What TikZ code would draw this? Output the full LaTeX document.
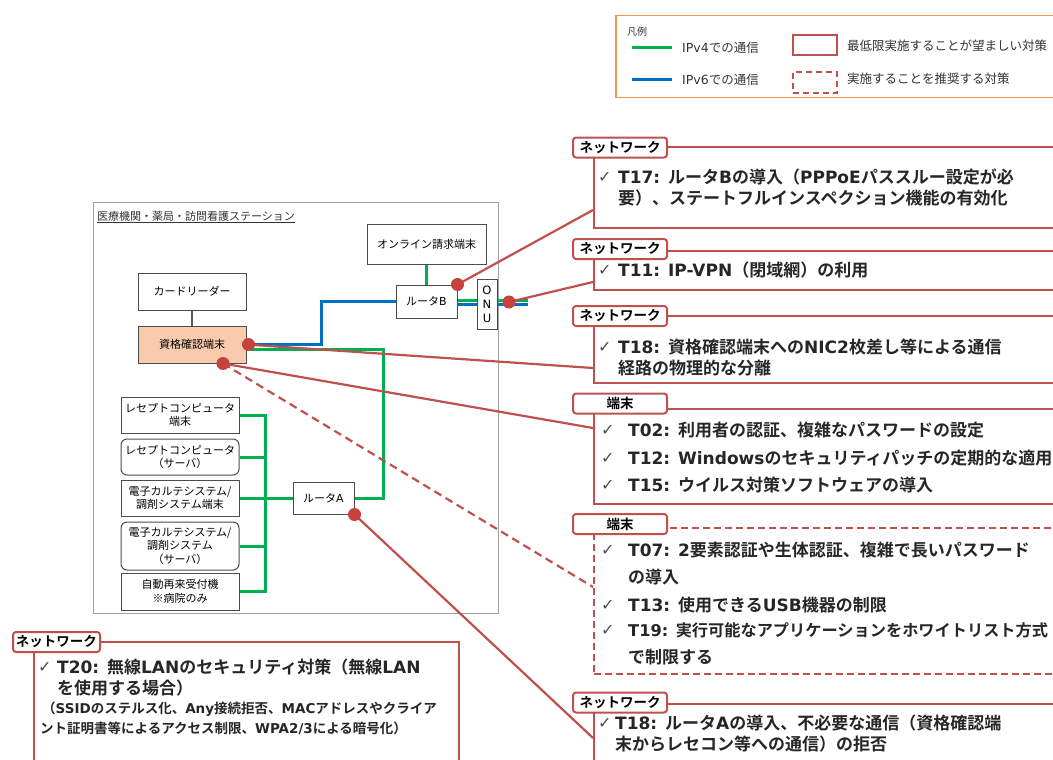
\documentclass[tikz,border=0pt]{standalone}
\usepackage{fontspec}
\setmainfont{Noto Sans CJK JP}[BoldFont={Noto Sans CJK JP Bold}]
\newfontfamily\symf{DejaVu Sans}
\newfontfamily\latf{DejaVu Sans}
\newcommand{\lt}[1]{{\latf #1}}
\definecolor{calred}{RGB}{192,80,77}
\definecolor{dotred}{RGB}{200,66,60}
\definecolor{netgreen}{RGB}{0,176,80}
\definecolor{netblue}{RGB}{0,112,192}
\definecolor{peach}{RGB}{248,203,173}
\definecolor{legor}{RGB}{240,150,80}
\definecolor{framegray}{RGB}{160,160,160}
\begin{document}
\begin{tikzpicture}[x=1pt,y=-1pt,
  dev/.style={draw=black!70,line width=1pt,fill=white,align=center,inner sep=0pt,font=\fontsize{11}{13.5}\selectfont},
  cbox/.style={draw=calred,line width=2pt,anchor=north west,inner sep=0pt},
  cboxd/.style={cbox,dash pattern=on 7pt off 4pt},
  tagbox/.style={draw=calred,line width=2pt,rounded corners=3pt,fill=white,minimum width=94pt,minimum height=20pt,inner sep=0pt,font=\bfseries\fontsize{13.5}{15}\selectfont},
  ctext/.style={anchor=west,inner sep=0pt,font=\bfseries\fontsize{17}{21}\selectfont,text=black!85},
  stext/.style={anchor=west,inner sep=0pt,font=\bfseries\fontsize{13.5}{15}\selectfont,text=black!85},
  chk/.style={anchor=west,inner sep=0pt,font=\symf\fontsize{16}{18}\selectfont,text=black!70},
  dot/.style={circle,fill=dotred,inner sep=0pt,minimum size=13pt},
  conn/.style={draw=calred,line width=2.2pt},
  ipvf/.style={draw=netgreen,line width=3pt},
  ipvs/.style={draw=netblue,line width=3pt},
  legtext/.style={anchor=west,inner sep=0pt,font=\fontsize{12.5}{14}\selectfont,text=black!80},
]
\useasboundingbox (0,0) rectangle (1053,760);
\clip (0,0) rectangle (1053,760);
\fill[white] (0,0) rectangle (1053,760);

% ---------- legend ----------
\node[draw=legor,line width=1.5pt,anchor=north west,minimum width=460pt,minimum height=82pt,inner sep=0pt] (legend) at (615,15) {};
\node[anchor=west,inner sep=0pt,font=\fontsize{10}{12}\selectfont,text=black!80] (legtitle) at (627,32) {凡例};
\coordinate (lg1) at (632,48); \coordinate (lg2) at (672,48);
\coordinate (lb1) at (632,80); \coordinate (lb2) at (672,80);
\draw[ipvf] (lg1) -- (lg2);
\draw[ipvs] (lb1) -- (lb2);
\node[legtext] (legv4) at (682,48) {\lt{IPv4}での通信};
\node[legtext] (legv6) at (682,80) {\lt{IPv6}での通信};
\node[draw=calred,line width=2pt,minimum width=44pt,minimum height=20pt,inner sep=0pt] (legsolid) at (815,45) {};
\node[draw=calred,line width=2pt,dash pattern=on 6pt off 4pt,minimum width=44pt,minimum height=21pt,inner sep=0pt] (legdash) at (815,82.5) {};
\node[legtext] (legsolidt) at (847,46) {最低限実施することが望ましい対策};
\node[legtext] (legdasht) at (847,79) {実施することを推奨する対策};

% ---------- facility frame ----------
\node[draw=framegray,line width=1pt,anchor=north west,minimum width=405pt,minimum height=411pt,inner sep=0pt] (frame) at (93,202) {};
\node[anchor=west,inner sep=0pt,font=\fontsize{11}{13}\selectfont,text=black!80] (ftitle) at (97,217) {\underline{医療機関・薬局・訪問看護ステーション}};

% ---------- devices ----------
\node[dev,minimum width=119pt,minimum height=40pt] (online) at (426.5,244) {オンライン請求端末};
\node[dev,minimum width=108pt,minimum height=37pt] (card) at (192,291.5) {カードリーダー};
\node[dev,fill=peach,minimum width=108pt,minimum height=37pt] (shikaku) at (192,344.5) {資格確認端末};
\node[dev,minimum width=61pt,minimum height=33pt] (routerB) at (426.5,301.5) {ルータ\lt{B}};
\node[dev,minimum width=61pt,minimum height=32pt] (routerA) at (323.5,498) {ルータ\lt{A}};
\node[dev,minimum width=118pt,minimum height=36pt] (b1) at (180,415) {レセプトコンピュータ\\端末};
\node[dev,rounded corners=6pt,minimum width=118pt,minimum height=36pt] (b2) at (180,457) {レセプトコンピュータ\\（サーバ）};
\node[dev,minimum width=118pt,minimum height=36pt] (b3) at (180,498) {電子カルテシステム/\\調剤システム端末};
\node[dev,rounded corners=6pt,minimum width=118pt,minimum height=48pt] (b4) at (180,546) {電子カルテシステム/\\調剤システム\\（サーバ）};
\node[dev,minimum width=118pt,minimum height=37pt] (b5) at (180,591.5) {自動再来受付機\\※病院のみ};

% ---------- network lines ----------
\draw[draw=black!65,line width=2pt] (card.south) -- (shikaku.north);
\draw[ipvf] (online.south) -- (routerB.north);
\draw[ipvs] (shikaku.east) -- ++(75,0) |- (routerB.west);
\draw[ipvf] ([yshift=-5pt]shikaku.east) -- ++(137,0) |- (routerA.east);
\draw[ipvf] (b1.east) -- ++(26,0) |- (b5.east);
\draw[ipvf] (b2.east) -- ++(26,0);
\draw[ipvf] (b4.east) -- ++(26,0);
\draw[ipvf] (b3.east) -- (routerA.west);
\draw[ipvf] ([yshift=1.5pt]routerB.east) -- ++(70,0);
\draw[ipvs] ([yshift=-3pt]routerB.east) -- ++(70,0);
\node[dev,minimum width=20pt,minimum height=50pt,font=\latf\fontsize{11.5}{14}\selectfont] (onu) at (487,304) {O\\N\\U};

% ---------- connector endpoints ----------
\coordinate (e17) at (593,210);
\coordinate (e11) at (593,282);
\coordinate (e18) at (593,368);
\coordinate (eT1) at (593,428);
\coordinate (eT2) at (593,587);
\coordinate (eA)  at (593,738);
\coordinate (eOnu) at (509,302);

\draw[conn] (routerB.north east) -- (e17);
\draw[conn] (eOnu) -- (e11);
\draw[conn] (shikaku.east) -- (e18);
\draw[conn] ([xshift=31pt]shikaku.south) -- (eT1);
\draw[conn,dash pattern=on 8pt off 5pt] ([xshift=31pt]shikaku.south) -- (eT2);
\draw[conn] (routerA.south east) -- (eA);

\node[dot] (dB) at (routerB.north east) {};
\node[dot] (dOnu) at (eOnu) {};
\node[dot] (dS1) at ([xshift=2pt]shikaku.east) {};
\node[dot] (dS2) at ([xshift=31pt]shikaku.south) {};
\node[dot] (dA) at (routerA.south east) {};

% ---------- callout T17 ----------
\node[cbox,minimum width=480pt,minimum height=81pt] (c17) at (593,146) {};
\node[tagbox] (t17) at (620,147.5) {ネットワーク};
\node[chk] (k17) at (598,177) {✓};
\node[ctext] (x17a) at (618,177) {\lt{T17: }ルータ\lt{B}の導入（\lt{PPPoE}パススルー設定が必};
\node[ctext] (x17b) at (618,198) {要）、ステートフルインスペクション機能の有効化};

% ---------- callout T11 ----------
\node[cbox,minimum width=480pt,minimum height=39pt] (c11) at (593,250) {};
\node[tagbox] (t11) at (620,249) {ネットワーク};
\node[chk] (k11) at (598,270) {✓};
\node[ctext] (x11) at (618,270) {\lt{T11: IP-VPN}（閉域網）の利用};

% ---------- callout T18 (NIC) ----------
\node[cbox,minimum width=480pt,minimum height=67pt] (c18) at (593,315) {};
\node[tagbox] (t18) at (620,316) {ネットワーク};
\node[chk] (k18) at (598,347) {✓};
\node[ctext] (x18a) at (618,347) {\lt{T18: }資格確認端末への\lt{NIC2}枚差し等による通信};
\node[ctext] (x18b) at (618,368) {経路の物理的な分離};

% ---------- callout terminal (solid) ----------
\node[cbox,minimum width=480pt,minimum height=95pt] (cT1) at (593,408) {};
\node[tagbox] (tT1) at (620,403.5) {端末};
\node[chk] (kT1a) at (601,430) {✓};
\node[chk] (kT1b) at (601,458) {✓};
\node[chk] (kT1c) at (601,485) {✓};
\node[ctext] (xT1a) at (628,430) {\lt{T02: }利用者の認証、複雑なパスワードの設定};
\node[ctext] (xT1b) at (628,458) {\lt{T12: Windows}のセキュリティパッチの定期的な適用};
\node[ctext] (xT1c) at (628,485) {\lt{T15: }ウイルス対策ソフトウェアの導入};

% ---------- callout terminal (dashed) ----------
\node[cboxd,minimum width=480pt,minimum height=146pt] (cT2) at (593,527) {};
\node[tagbox] (tT2) at (620,524) {端末};
\node[chk] (kT2a) at (601,550) {✓};
\node[chk] (kT2b) at (601,605) {✓};
\node[chk] (kT2c) at (601,630) {✓};
\node[ctext] (xT2a) at (628,550) {\lt{T07: 2}要素認証や生体認証、複雑で長いパスワード};
\node[ctext] (xT2b) at (628,577) {の導入};
\node[ctext] (xT2c) at (628,605) {\lt{T13: }使用できる\lt{USB}機器の制限};
\node[ctext,font=\bfseries\fontsize{16.2}{21}\selectfont] (xT2d) at (628,630) {\lt{T19: }実行可能なアプリケーションをホワイトリスト方式};
\node[ctext] (xT2e) at (628,657) {で制限する};

% ---------- callout T18 (router A) ----------
\node[cbox,minimum width=480pt,minimum height=80pt] (cA) at (593,703) {};
\node[tagbox] (tA) at (620,702.5) {ネットワーク};
\node[chk] (kA) at (598,723) {✓};
\node[ctext] (xAa) at (615,723) {\lt{T18: }ルータ\lt{A}の導入、不必要な通信（資格確認端};
\node[ctext] (xAb) at (615,744) {末からレセコン等への通信）の拒否};

% ---------- callout T20 ----------
\node[cbox,minimum width=425pt,minimum height=140pt] (c20) at (33,641) {};
\node[tagbox,minimum width=87pt] (t20) at (56.5,642) {ネットワーク};
\node[chk] (k20) at (38,667) {✓};
\node[ctext] (x20a) at (57,667) {\lt{T20: }無線\lt{LAN}のセキュリティ対策（無線\lt{LAN}};
\node[ctext] (x20b) at (57,688) {を使用する場合）};
\node[stext] (x20c) at (42,709) {（\lt{SSID}のステルス化、\lt{Any}接続拒否、\lt{MAC}アドレスやクライア};
\node[stext] (x20d) at (40,728) {ント証明書等によるアクセス制限、\lt{WPA2/3}による暗号化）};
\end{tikzpicture}
\end{document}
